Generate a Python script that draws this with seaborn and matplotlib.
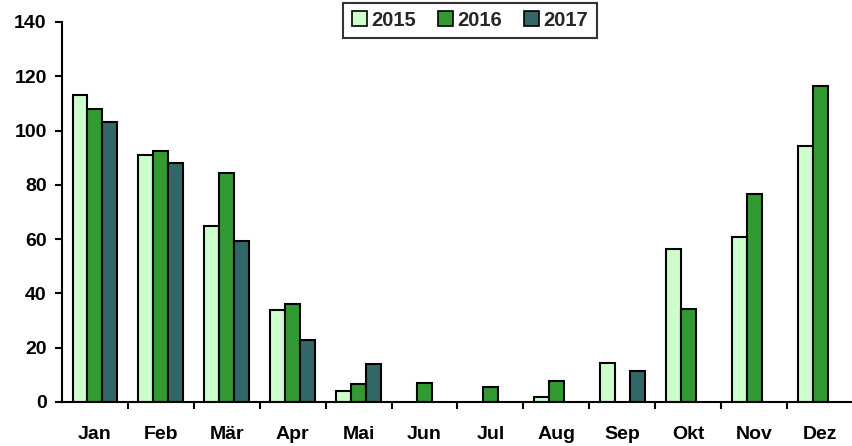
import numpy as np
import pandas as pd
import matplotlib
matplotlib.use("Agg")
import matplotlib.pyplot as plt
import seaborn as sns
from matplotlib.patches import Patch
from matplotlib.ticker import FixedLocator

months = ["Jan", "Feb", "Mär", "Apr", "Mai", "Jun", "Jul", "Aug", "Sep", "Okt", "Nov", "Dez"]
years = ["2015", "2016", "2017"]
nan = np.nan
v2015 = [113, 91, 65, 34, 4, nan, nan, 2, 14.5, 56.3, 60.7, 94.5]
v2016 = [108, 92.4, 84.2, 36, 6.8, 7.1, 5.6, 7.9, nan, 34.3, 76.7, 116.5]
v2017 = [103.3, 88, 59.3, 22.7, 14, nan, nan, nan, 11.5, nan, nan, nan]
colors = ["#CCFFCC", "#339933", "#336666"]

df = pd.DataFrame({
    "Monat": months * 3,
    "Jahr": [y for y in years for _ in months],
    "Wert": v2015 + v2016 + v2017,
})

sns.set_theme(style="white")
plt.rcParams["font.family"] = ["Liberation Sans", "DejaVu Sans"]

fig = plt.figure(figsize=(8.53, 4.46), dpi=100)
ax = fig.add_axes([62 / 853, 44 / 446, 791 / 853, 380 / 446])

sns.barplot(data=df, x="Monat", y="Wert", hue="Jahr", order=months, hue_order=years,
            palette=colors, width=0.68, gap=0, edgecolor="black", linewidth=1.5,
            saturation=1, errorbar=None, legend=False, ax=ax)

ax.set_xlim(-0.5, 11.5)
ax.set_ylim(0, 140)
ax.set_yticks(range(0, 141, 20))
ax.set_xlabel("")
ax.set_ylabel("")

for side in ("top", "right"):
    ax.spines[side].set_visible(False)
for side in ("left", "bottom"):
    ax.spines[side].set_color("black")
    ax.spines[side].set_linewidth(1.5)

ax.tick_params(axis="y", which="major", direction="out", length=5, width=1.5,
               color="black", left=True, labelsize=14, pad=6)
ax.tick_params(axis="x", which="major", length=0, labelsize=14, pad=17)
ax.xaxis.set_minor_locator(FixedLocator(np.arange(0.5, 11.5, 1)))
ax.tick_params(axis="x", which="minor", direction="out", length=5, width=1.5,
               color="black", bottom=True)
for lab in ax.get_xticklabels() + ax.get_yticklabels():
    lab.set_fontweight("bold")
    lab.set_color("black")

handles = [Patch(facecolor=c, edgecolor="black", linewidth=1.2) for c in colors]
leg = ax.legend(handles, years, loc="center", bbox_to_anchor=((470 - 62) / 791, 1.005),
                ncol=3, frameon=True, fancybox=False, handlelength=0.75, handleheight=0.75,
                handletextpad=0.25, columnspacing=1.05, borderpad=0.4,
                prop={"weight": "bold", "size": 14.5})
leg.get_frame().set_edgecolor("black")
leg.get_frame().set_linewidth(1.5)

fig.savefig("out.png", dpi=100)
